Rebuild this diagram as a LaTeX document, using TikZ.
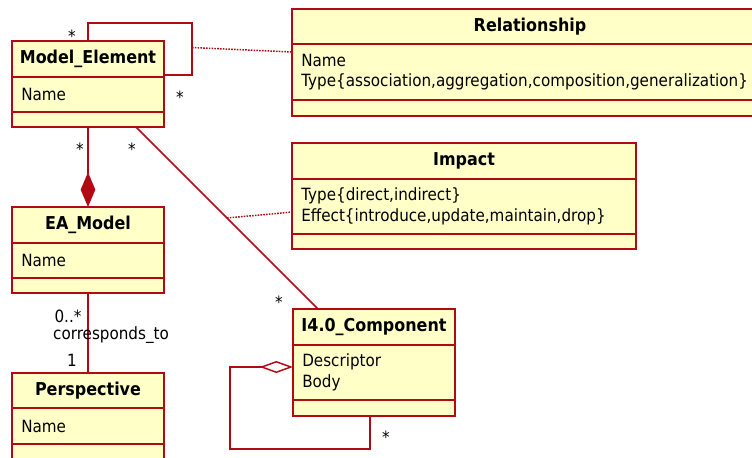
\documentclass[tikz,border=0pt]{standalone}
\usepackage{fontspec}
\setmainfont{DejaVu Sans}[FakeStretch=0.9]
\usetikzlibrary{arrows.meta,calc}
\definecolor{umlred}{RGB}{178,10,20}
\definecolor{umlfill}{RGB}{255,255,200}
\def\px{0.75pt}
\newcommand\umlclass[9]{%
  \node[classbox, anchor=north west, minimum width=#4*\px, minimum height=(#5+#6+#7)*\px] (#1) at (#2,#3) {};
  \draw[classline] ([yshift=-#5*\px]#1.north west) -- ([yshift=-#5*\px]#1.north east);
  \draw[classline] ([yshift=-(#5+#6)*\px]#1.north west) -- ([yshift=-(#5+#6)*\px]#1.north east);
  \node[titletext] (#1-t) at ([yshift=-#5/2*\px]#1.north) {#8};
  \node[attrtext] (#1-a) at ([xshift=9*\px, yshift=-(#5+#6/2)*\px]#1.north west) {#9};
}
\begin{document}
\begin{tikzpicture}[x=0.75pt, y=-0.75pt,
  every node/.style={font=\fontsize{12.65pt}{15.4pt}\selectfont},
  classbox/.style={draw=umlred, fill=umlfill, line width=1.1pt, inner sep=0pt, outer sep=0pt},
  classline/.style={draw=umlred, line width=1.1pt},
  titletext/.style={font=\fontsize{13.3pt}{15.4pt}\selectfont\bfseries, inner sep=0pt},
  attrtext/.style={anchor=west, align=left, inner sep=0pt},
  assoc/.style={draw=umlred, line width=1.1pt},
  dotline/.style={draw=umlred, line width=1.1pt, dash pattern=on 1.2pt off 0.9pt},
  mult/.style={inner sep=0pt}]
\useasboundingbox (0,0) rectangle (752,457);

\umlclass{me}{12}{41}{152}{36}{35}{15}{Model\_Element}{Name}
\umlclass{rel}{292}{9}{476}{35}{56}{16}{Relationship}{Name\\Type\{association,aggregation,composition,generalization\}}
\umlclass{imp}{292}{143}{344}{36}{55}{15}{Impact}{Type\{direct,indirect\}\\Effect\{introduce,update,maintain,drop\}}
\umlclass{ea}{12}{207}{152}{36}{35}{15}{EA\_Model}{Name}
\umlclass{persp}{12}{373}{152}{35}{36}{16}{Perspective}{Name}
\umlclass{comp}{293}{309}{162}{36}{55}{16}{I4.0\_Component}{Descriptor\\Body}

% self loop on Model_Element
\coordinate (loopA) at (192,23);
\coordinate (loopB) at (192,75);
\coordinate (loopM) at (192,47.5);
\draw[assoc] (me.north) |- (loopA) -- (loopB) -- (me.east |- loopB);
\coordinate (relP) at (292,52);
\draw[dotline] (loopM) -- (relP);
\node[mult] at (72,36) {*};
\node[mult] at (180,97) {*};

% composition Model_Element - EA_Model
\draw[assoc, -{Diamond[length=26pt, width=11pt, fill=umlred]}] (me.south) -- (ea.north);
\node[mult] at (80,149) {*};

% association Model_Element - I4.0_Component
\coordinate (meA) at ([xshift=124*\px]me.south west);
\coordinate (compA) at ([xshift=25*\px]comp.north west);
\draw[assoc] (meA) -- (compA);
\node[mult] at (132,149) {*};
\node[mult] at (279,302) {*};
\coordinate (impP) at ([yshift=-69*\px]imp.north west);
\draw[dotline] ($(meA)!0.5!(compA)$) -- (impP);

% EA_Model - Perspective
\draw[assoc] (ea.south) -- (persp.north);
\node[mult] at (68,316) {0..*};
\node[mult] at (111,335) {corresponds\_to};
\node[mult] at (72,360) {1};

% self aggregation on I4.0_Component
\coordinate (cA) at ([xshift=77*\px]comp.south west);
\coordinate (aggB) at (230,449);
\coordinate (aggT) at (230,367);
\draw[assoc, -{Diamond[length=25pt, width=9pt, fill=white]}] (cA) |- (aggB) -- (aggT) -- (comp.west |- aggT);
\node[mult] at (386,437) {*};
\end{tikzpicture}
\end{document}
